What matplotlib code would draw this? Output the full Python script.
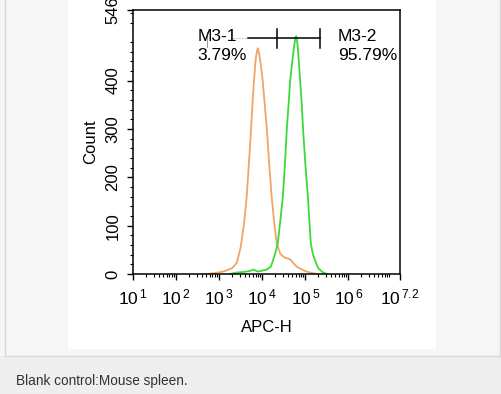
"""
Flow cytometry histogram: blank control vs stained, mouse spleen.
"""
import matplotlib
matplotlib.use('Agg')
import matplotlib.pyplot as plt
from matplotlib.patches import Rectangle
from matplotlib.lines import Line2D
import numpy as np

# log10(APC-H) and counts
blank_log = [2.70, 2.90, 3.10, 3.30, 3.41, 3.50, 3.58, 3.64, 3.70, 3.74, 3.78, 3.81,
             3.85, 3.88, 3.90, 3.93, 3.97, 4.01, 4.06, 4.11, 4.16, 4.22, 4.28, 4.34,
             4.42, 4.50, 4.65, 4.80, 5.00, 5.15, 5.30]
blank_count = [0, 2, 5, 12, 23, 55, 105, 160, 240, 298, 360, 401,
               445, 462, 467, 455, 432, 401, 350, 298, 230, 160, 105, 62,
               42, 35, 30, 15, 6, 2, 0]

stain_log = [3.25, 3.40, 3.55, 3.70, 3.80, 3.90, 4.00, 4.10, 4.20, 4.25, 4.30, 4.36,
             4.42, 4.48, 4.53, 4.57, 4.62, 4.65, 4.70, 4.74, 4.77, 4.79, 4.82, 4.85,
             4.88, 4.92, 4.95, 5.00, 5.06, 5.13, 5.18, 5.23, 5.30, 5.40, 5.50]
stain_count = [0, 3, 4, 6, 9, 5, 7, 9, 15, 28, 42, 62,
               110, 160, 230, 298, 360, 401, 440, 470, 488, 492, 475, 440,
               401, 350, 298, 230, 160, 62, 40, 28, 12, 4, 0]

x_ticks = [1, 2, 3, 4, 5, 6, 7.2]
x_labels = [r'$10^{\,1}$', r'$10^{\,2}$', r'$10^{\,3}$', r'$10^{\,4}$',
            r'$10^{\,5}$', r'$10^{\,6}$', r'$10^{\,7.2}$']
y_ticks = [0, 100, 200, 300, 400, 546]

gate_m31 = (2.72, 4.34)
gate_m32 = (4.34, 5.34)
gate_y = 489
pct_m31 = '3.79%'
pct_m32 = '95.79%'

plt.rcParams['font.family'] = ['Liberation Sans', 'DejaVu Sans']
plt.rcParams['mathtext.fontset'] = 'custom'
plt.rcParams['mathtext.rm'] = 'Liberation Sans'
plt.rcParams['mathtext.it'] = 'Liberation Sans'

W, H = 501, 394
fig = plt.figure(figsize=(W / 100, H / 100), dpi=100, facecolor='#f5f6f5')


def px_rect(x0, y0, x1, y1, color, z=0):
    """Rectangle given in pixel coords (top-left origin)."""
    fig.add_artist(Rectangle((x0 / W, 1 - y1 / H), (x1 - x0) / W, (y1 - y0) / H,
                             transform=fig.transFigure, facecolor=color,
                             edgecolor='none', zorder=z))


def px_line(x0, y0, x1, y1, color, lw=1.0):
    fig.add_artist(Line2D([x0 / W, x1 / W], [1 - y0 / H, 1 - y1 / H],
                          transform=fig.transFigure, color=color, lw=lw, zorder=1))


# page background pieces
px_rect(0, 356, W, H, '#edeeed')
px_rect(68, 0, 436, 349, 'white', z=0.5)
px_line(4.5, 0, 4.5, 355.5, '#d6d8d7')
px_line(499.5, 0, 499.5, 355.5, '#d6d8d7')
px_line(4.5, 355.5, 499.5, 355.5, '#d6d8d7')

ax = fig.add_axes([133 / W, 1 - 274 / H, (400 - 133) / W, (274 - 10) / H])
ax.set_zorder(2)
ax.plot(blank_log, blank_count, color='#f0a466', lw=1.3)
ax.plot(stain_log, stain_count, color='#3fd83a', lw=1.3)

ax.set_xlim(1, 7.2)
ax.set_ylim(0, 546)
ax.set_xticks(x_ticks)
ax.set_xticklabels(x_labels, fontsize=12.5)
minor_x = [d + np.log10(m) for d in range(1, 8) for m in range(2, 10) if d + np.log10(m) < 7.2]
ax.set_xticks(minor_x, minor=True)
ax.set_yticks(y_ticks)
ax.set_yticklabels([str(v) for v in y_ticks], rotation=90, va='center', fontsize=12)
ax.set_yticks([v for v in range(20, 546, 20) if v % 100], minor=True)
ax.tick_params(which='major', length=4, width=1, direction='out', pad=5)
ax.tick_params(which='minor', length=2, width=0.8, direction='out')
ax.tick_params(axis='x', which='major', pad=6)
for sp in ax.spines.values():
    sp.set_linewidth(1.1)

ax.set_xlabel('APC-H', fontsize=12, labelpad=9)
ax.set_ylabel('Count', fontsize=12, labelpad=5)

# marker gates
ax.plot([3.32, 3.67], [gate_y, gate_y], color='#aaaaaa', lw=0.8, ls=':')
ax.plot([3.67, gate_m32[1]], [gate_y, gate_y], color='black', lw=1.1)
for gx in (gate_m31[1], gate_m32[1]):
    ax.plot([gx, gx], [468, 507], color='black', lw=1.1)
ax.plot([gate_m31[0], gate_m31[0]], [470, 500], color='#999999', lw=0.7)

ax.text(2.49, 492, 'M3-1', fontsize=12.5, va='center', ha='left')
ax.text(2.49, 452, pct_m31, fontsize=12.5, va='center', ha='left')
ax.text(5.76, 492, 'M3-2', fontsize=12.5, va='center', ha='left')
ax.text(5.76, 452, pct_m32, fontsize=12.5, va='center', ha='left')

fig.text(16 / W, 1 - 381 / H, 'Blank control:Mouse spleen.', fontsize=9.8,
         color='#333333', va='center', ha='left')

fig.savefig('out.png', dpi=100, facecolor=fig.get_facecolor())
